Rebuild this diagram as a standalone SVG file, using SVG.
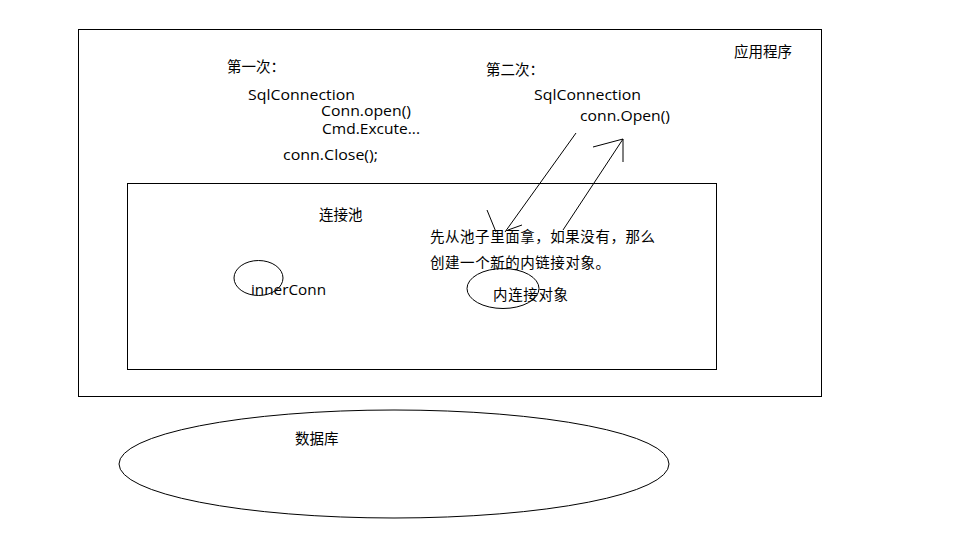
<svg xmlns="http://www.w3.org/2000/svg" width="953" height="553" viewBox="0 0 953 553">
<style>
.box{fill:none;stroke:#000;stroke-width:1}
.ln{fill:none;stroke:#000;stroke-width:1}
.t{font-family:"Open Sans","Noto Sans CJK SC",sans-serif;font-size:15px;fill:#000}
.s{font-family:"Open Sans","Noto Sans CJK SC",sans-serif;font-size:14px;fill:#000}
.c{font-family:"Noto Sans CJK SC",sans-serif;font-size:14.5px;fill:#000}
</style>
<rect x="0" y="0" width="953" height="553" fill="#fff"/>
<g id="app">
<rect class="box" x="78.5" y="29.5" width="743" height="367"/>
<text class="c" x="734" y="57">应用程序</text>
</g>
<g id="first">
<text class="c" x="227" y="72" textLength="58" lengthAdjust="spacing">第一次：</text>
<text class="t" x="248" y="100" textLength="107" lengthAdjust="spacingAndGlyphs">SqlConnection</text>
<text class="s" x="321" y="116" textLength="90" lengthAdjust="spacingAndGlyphs">Conn.open()</text>
<text class="s" x="322" y="134" textLength="98" lengthAdjust="spacingAndGlyphs">Cmd.Excute...</text>
<text class="t" x="283" y="160" textLength="95" lengthAdjust="spacingAndGlyphs">conn.Close();</text>
</g>
<g id="second">
<text class="c" x="486" y="75" textLength="58" lengthAdjust="spacing">第二次：</text>
<text class="t" x="534" y="100" textLength="107" lengthAdjust="spacingAndGlyphs">SqlConnection</text>
<text class="t" x="580" y="121" textLength="90" lengthAdjust="spacingAndGlyphs">conn.Open()</text>
</g>
<g id="pool">
<rect class="box" x="127.5" y="183.5" width="589" height="186"/>
<text class="c" x="319" y="220">连接池</text>
<text class="c" x="430" y="242" textLength="225" lengthAdjust="spacing">先从池子里面拿，如果没有，那么</text>
<text class="c" x="430" y="268" textLength="180" lengthAdjust="spacing">创建一个新的内链接对象。</text>
</g>
<g id="innerConn">
<ellipse class="box" cx="258.5" cy="278" rx="24.5" ry="17.5"/>
<text class="t" x="251" y="295" textLength="75" lengthAdjust="spacingAndGlyphs">innerConn</text>
</g>
<g id="innerObj">
<ellipse class="box" cx="503" cy="288.5" rx="36" ry="20"/>
<text class="c" x="493" y="300" textLength="75" lengthAdjust="spacing">内连接对象</text>
</g>
<g id="db">
<ellipse class="box" cx="394" cy="464" rx="275" ry="54"/>
<text class="c" x="295" y="444">数据库</text>
</g>
<g id="connectors">
<path class="ln" d="M576,133 L505,232 M487,210 L496,232 M522,225 L508,230"/>
<path class="ln" d="M563,230 L623,139 M623,139 L593,147 M623,139 L623,162"/>
</g>
</svg>
